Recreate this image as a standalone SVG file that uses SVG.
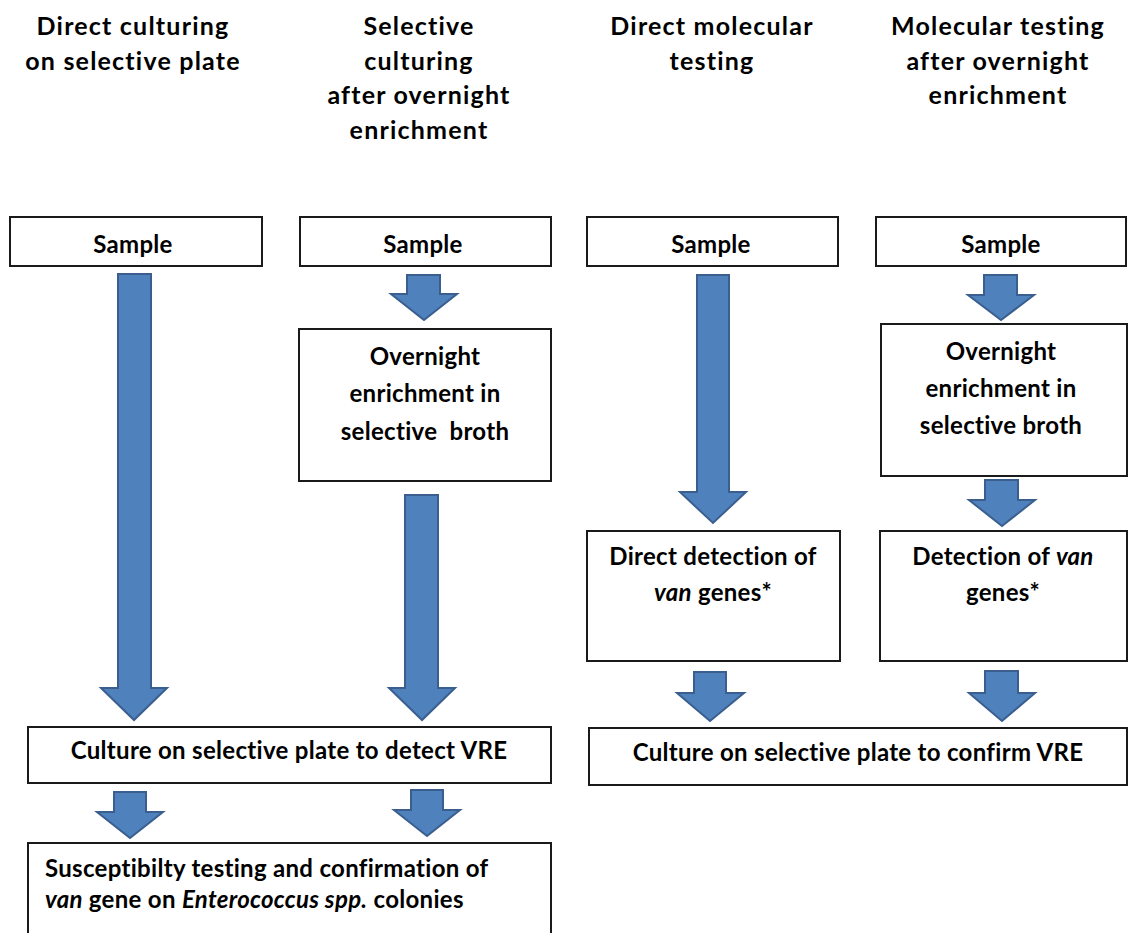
<svg xmlns="http://www.w3.org/2000/svg" width="1131" height="933" viewBox="0 0 1131 933">
<style>
text{font-family:Lato,"Liberation Sans",sans-serif;font-weight:bold;font-size:24px;letter-spacing:0.3px;fill:#000}
.t{font-size:25px;letter-spacing:1.2px}
.c{text-anchor:middle}
.i{font-style:italic}
.box{fill:#fff;stroke:#1a1a1a;stroke-width:2}
.arr{fill:#4F81BD;stroke:#3A5F8F;stroke-width:2;stroke-linejoin:miter}
</style>
<rect width="1131" height="933" fill="#fff"/>
<g id="titles">
<text class="c t" x="133" y="35">Direct culturing</text>
<text class="c t" x="133" y="70">on selective plate</text>
<text class="c t" x="419" y="35">Selective</text>
<text class="c t" x="419" y="70">culturing</text>
<text class="c t" x="419" y="104">after overnight</text>
<text class="c t" x="419" y="139">enrichment</text>
<text class="c t" x="712" y="35">Direct molecular</text>
<text class="c t" x="712" y="70">testing</text>
<text class="c t" x="998" y="35">Molecular testing</text>
<text class="c t" x="998" y="70">after overnight</text>
<text class="c t" x="998" y="104">enrichment</text>
</g>
<g id="connectors">
<path class="arr" d="M118,274 H151 V688 H167 L134,720 L101,688 H118 Z"/>
<path class="arr" d="M407,275 H440 V294 H457 L424,320 L391,294 H407 Z"/>
<path class="arr" d="M405,495 H438 V688 H455 L422,720 L389,688 H405 Z"/>
<path class="arr" d="M697,275 H729 V492 H746 L713,523 L680,492 H697 Z"/>
<path class="arr" d="M984,275 H1017 V295 H1034 L1001,320 L968,295 H984 Z"/>
<path class="arr" d="M985,480 H1018 V500 H1035 L1002,526 L969,500 H985 Z"/>
<path class="arr" d="M694,672 H726 V693 H744 L710,721 L677,693 H694 Z"/>
<path class="arr" d="M985,671 H1018 V693 H1035 L1002,721 L969,693 H985 Z"/>
<path class="arr" d="M114,792 H146 V812 H163 L130,838 L97,812 H114 Z"/>
<path class="arr" d="M411,790 H443 V810 H460 L427,836 L394,810 H411 Z"/>
</g>
<g id="sample1"><rect class="box" x="10" y="217" width="252" height="49"/><text class="c" x="133" y="253">Sample</text></g>
<g id="sample2"><rect class="box" x="300" y="217" width="251" height="49"/><text class="c" x="423" y="253">Sample</text></g>
<g id="sample3"><rect class="box" x="587" y="217" width="251" height="49"/><text class="c" x="711" y="253">Sample</text></g>
<g id="sample4"><rect class="box" x="876" y="217" width="250" height="49"/><text class="c" x="1001" y="253">Sample</text></g>
<g id="enrich2"><rect class="box" x="299" y="329" width="252" height="152"/>
<text class="c" x="425" y="365">Overnight</text><text class="c" x="425" y="402">enrichment in</text><text class="c" x="425" y="440" style="white-space:pre">selective  broth</text></g>
<g id="enrich4"><rect class="box" x="881" y="324" width="246" height="152"/>
<text class="c" x="1001" y="360">Overnight</text><text class="c" x="1001" y="397">enrichment in</text><text class="c" x="1001" y="434">selective broth</text></g>
<g id="direct-detection"><rect class="box" x="587" y="531" width="253" height="130"/>
<text class="c" x="713" y="565">Direct detection of</text><text class="c" x="713" y="601"><tspan class="i">van</tspan> genes*</text></g>
<g id="detection"><rect class="box" x="880" y="531" width="247" height="130"/>
<text class="c" x="1003" y="565">Detection of <tspan class="i">van</tspan></text><text class="c" x="1003" y="601">genes*</text></g>
<g id="culture-detect"><rect class="box" x="28" y="727" width="523" height="56"/>
<text class="c" x="289" y="759">Culture on selective plate to detect VRE</text></g>
<g id="culture-confirm"><rect class="box" x="589" y="728" width="538" height="57"/>
<text class="c" x="858" y="761">Culture on selective plate to confirm VRE</text></g>
<g id="susceptibility"><rect class="box" x="28" y="843" width="523" height="100"/>
<text x="45" y="877">Susceptibilty testing and confirmation of</text>
<text x="45" y="908"><tspan class="i">van</tspan> gene on <tspan class="i">Enterococcus spp.</tspan> colonies</text></g>
</svg>
